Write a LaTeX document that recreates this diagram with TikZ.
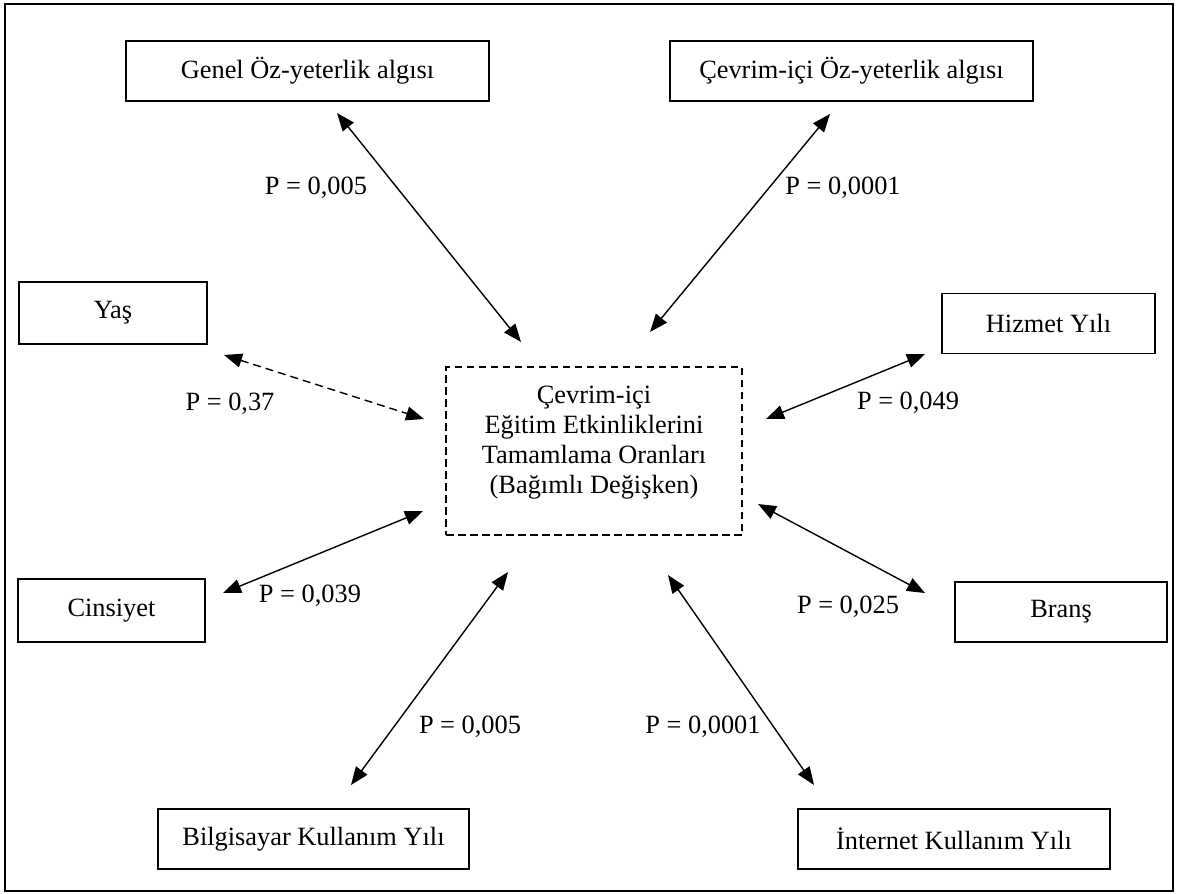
\documentclass[tikz,border=0pt]{standalone}
\usepackage{fontspec}
\setmainfont{Liberation Serif}
\usepackage{tikz}
\usetikzlibrary{arrows.meta}
\tikzset{
  varbox/.style={rectangle, draw, line width=1pt, inner sep=0pt,
                 minimum height=12mm, font=\fontsize{15}{17.07}\selectfont},
  depbox/.style={rectangle, draw, line width=0.9pt, inner sep=0pt,
                 dash pattern=on 1.5mm off 0.9mm, align=center,
                 minimum width=59.2mm, minimum height=33.6mm,
                 font=\fontsize{15}{17.07}\selectfont},
  plabel/.style={inner sep=0pt, font=\fontsize{15}{17.07}\selectfont},
  link/.style={{Triangle[length=3.6mm,width=2.8mm]}-{Triangle[length=3.6mm,width=2.8mm]},
               line width=0.8pt},
  weaklink/.style={link, dash pattern=on 1.6mm off 1mm},
}

\begin{document}
\begin{tikzpicture}[x=0.2mm,y=-0.2mm]
  \useasboundingbox (0,0) rectangle (1177,893);
  \draw[line width=1.2pt] (5,4) rectangle (1173,891);

  % dependent variable
  \node[depbox] (tamam) at (594,451)
    {Çevrim-içi\\Eğitim Etkinliklerini\\Tamamlama Oranları\\(Bağımlı Değişken)\\[-1.4mm]};

  % predictors
  \node[varbox, minimum width=72.6mm] (genel) at (307.5,71) {Genel Öz-yeterlik algısı};
  \node[varbox, minimum width=72.6mm] (cevrim) at (851.5,71) {Çevrim-içi Öz-yeterlik algısı};
  \node[varbox, minimum width=37.6mm, minimum height=12.4mm] (yas) at (113,313) {Yaş};
  \node[varbox, minimum width=42.6mm] (hizmet) at (1048.5,323.5) {Hizmet Yılı};
  \node[varbox, minimum width=37.4mm, minimum height=12.6mm] (cins) at (111.5,610.5) {Cinsiyet};
  \node[varbox, minimum width=42.4mm] (brans) at (1061,612) {Branş};
  \node[varbox, minimum width=62.2mm] (bilg) at (313.5,839) {Bilgisayar Kullanım Yılı};
  \node[varbox, minimum width=62.4mm] (inet) at (954,839) {İnternet Kullanım Yılı};

  % arrow ends
  \coordinate (genelE) at (337,113);   \coordinate (genelT) at (521,342);
  \coordinate (cevrimE) at (830,114);  \coordinate (cevrimT) at (650,332);
  \coordinate (yasE) at (224,355);     \coordinate (yasT) at (424,419);
  \coordinate (hizmetE) at (925,354);  \coordinate (hizmetT) at (766,419);
  \coordinate (cinsE) at (223,593);    \coordinate (cinsT) at (423,511);
  \coordinate (bransE) at (925,593);   \coordinate (bransT) at (758,504);
  \coordinate (bilgE) at (351,785);    \coordinate (bilgT) at (508,572);
  \coordinate (inetE) at (814,785);    \coordinate (inetT) at (668,575);

  \draw[link] (genelE) -- (genelT);
  \draw[link] (cevrimE) -- (cevrimT);
  \draw[weaklink] (yasE) -- (yasT);
  \draw[link] (hizmetE) -- (hizmetT);
  \draw[link] (cinsE) -- (cinsT);
  \draw[link] (bransE) -- (bransT);
  \draw[link] (bilgE) -- (bilgT);
  \draw[link] (inetE) -- (inetT);

  % p values
  \node[plabel] (pgenel) at (316,188) {P = 0,005};
  \node[plabel] (pcevrim) at (843,188) {P = 0,0001};
  \node[plabel] (pyas) at (230,404) {P = 0,37};
  \node[plabel] (phizmet) at (908,403) {P = 0,049};
  \node[plabel] (pcins) at (310,596) {P = 0,039};
  \node[plabel] (pbrans) at (848,607) {P = 0,025};
  \node[plabel] (pbilg) at (470,727) {P = 0,005};
  \node[plabel] (pinet) at (703,727) {P = 0,0001};
\end{tikzpicture}
\end{document}
